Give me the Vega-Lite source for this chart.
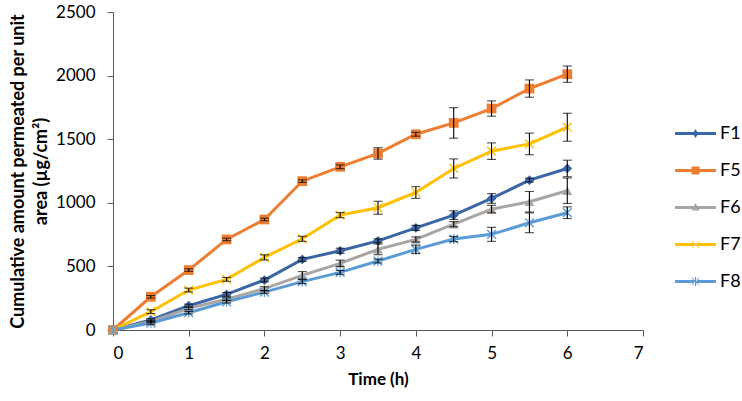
{
  "$schema": "https://vega.github.io/schema/vega-lite/v6.json",
  "width": 530,
  "height": 318,
  "autosize": {"type": "none"},
  "padding": {"left": 113, "top": 12, "right": 99, "bottom": 71},
  "background": "white",
  "config": {
    "view": {"stroke": null},
    "font": "Lato",
    "axis": {"domainColor": "#595959", "tickColor": "#595959", "labelColor": "#000000", "titleColor": "#000000", "grid": false, "labelFont": "Lato", "titleFont": "Lato"}
  },
  "data": {"values": [
    {"t": 0, "s": "F1", "v": 0}, {"t": 0.5, "s": "F1", "v": 79, "e": 10}, {"t": 1, "s": "F1", "v": 191, "e": 12}, {"t": 1.5, "s": "F1", "v": 280, "e": 15}, {"t": 2, "s": "F1", "v": 393, "e": 15}, {"t": 2.5, "s": "F1", "v": 555, "e": 15}, {"t": 3, "s": "F1", "v": 623, "e": 20}, {"t": 3.5, "s": "F1", "v": 701, "e": 15}, {"t": 4, "s": "F1", "v": 803, "e": 20}, {"t": 4.5, "s": "F1", "v": 903, "e": 34}, {"t": 5, "s": "F1", "v": 1034, "e": 38}, {"t": 5.5, "s": "F1", "v": 1178, "e": 15}, {"t": 6, "s": "F1", "v": 1270, "e": 65},
    {"t": 0, "s": "F5", "v": 0}, {"t": 0.5, "s": "F5", "v": 261, "e": 10}, {"t": 1, "s": "F5", "v": 471, "e": 10}, {"t": 1.5, "s": "F5", "v": 712, "e": 10}, {"t": 2, "s": "F5", "v": 869, "e": 10}, {"t": 2.5, "s": "F5", "v": 1170, "e": 10}, {"t": 3, "s": "F5", "v": 1283, "e": 15}, {"t": 3.5, "s": "F5", "v": 1388, "e": 45}, {"t": 4, "s": "F5", "v": 1539, "e": 15}, {"t": 4.5, "s": "F5", "v": 1628, "e": 120}, {"t": 5, "s": "F5", "v": 1741, "e": 60}, {"t": 5.5, "s": "F5", "v": 1898, "e": 68}, {"t": 6, "s": "F5", "v": 2011, "e": 64},
    {"t": 0, "s": "F6", "v": 0}, {"t": 0.5, "s": "F6", "v": 67, "e": 10}, {"t": 1, "s": "F6", "v": 170, "e": 10}, {"t": 1.5, "s": "F6", "v": 243, "e": 10}, {"t": 2, "s": "F6", "v": 325, "e": 15}, {"t": 2.5, "s": "F6", "v": 429, "e": 30}, {"t": 3, "s": "F6", "v": 524, "e": 25}, {"t": 3.5, "s": "F6", "v": 634, "e": 42}, {"t": 4, "s": "F6", "v": 712, "e": 20}, {"t": 4.5, "s": "F6", "v": 832, "e": 20}, {"t": 5, "s": "F6", "v": 950, "e": 30}, {"t": 5.5, "s": "F6", "v": 1008, "e": 81}, {"t": 6, "s": "F6", "v": 1095, "e": 100},
    {"t": 0, "s": "F7", "v": 0}, {"t": 0.5, "s": "F7", "v": 144, "e": 15}, {"t": 1, "s": "F7", "v": 314, "e": 15}, {"t": 1.5, "s": "F7", "v": 398, "e": 15}, {"t": 2, "s": "F7", "v": 571, "e": 20}, {"t": 2.5, "s": "F7", "v": 717, "e": 20}, {"t": 3, "s": "F7", "v": 903, "e": 20}, {"t": 3.5, "s": "F7", "v": 961, "e": 51}, {"t": 4, "s": "F7", "v": 1081, "e": 46}, {"t": 4.5, "s": "F7", "v": 1270, "e": 75}, {"t": 5, "s": "F7", "v": 1406, "e": 65}, {"t": 5.5, "s": "F7", "v": 1463, "e": 85}, {"t": 6, "s": "F7", "v": 1594, "e": 110},
    {"t": 0, "s": "F8", "v": 0}, {"t": 0.5, "s": "F8", "v": 55, "e": 10}, {"t": 1, "s": "F8", "v": 136, "e": 10}, {"t": 1.5, "s": "F8", "v": 222, "e": 10}, {"t": 2, "s": "F8", "v": 298, "e": 10}, {"t": 2.5, "s": "F8", "v": 380, "e": 15}, {"t": 3, "s": "F8", "v": 453, "e": 15}, {"t": 3.5, "s": "F8", "v": 542, "e": 15}, {"t": 4, "s": "F8", "v": 634, "e": 33}, {"t": 4.5, "s": "F8", "v": 715, "e": 20}, {"t": 5, "s": "F8", "v": 752, "e": 55}, {"t": 5.5, "s": "F8", "v": 843, "e": 78}, {"t": 6, "s": "F8", "v": 922, "e": 46}
  ]},
  "encoding": {
    "x": {"field": "t", "type": "quantitative", "scale": {"domain": [0, 7], "nice": false}, "axis": {"title": "Time (h)", "values": [0,1,2,3,4,5,6,7], "format": "d", "labelFontSize": 17, "titleFontSize": 17, "titleFontWeight": "bold", "tickSize": 6, "labelPadding": 9, "titlePadding": 10}},
    "y": {"field": "v", "type": "quantitative", "scale": {"domain": [0, 2500], "nice": false}, "axis": {"title": ["Cumulative amount permeated per unit", "area (µg/cm²)"], "values": [0,500,1000,1500,2000,2500], "format": "d", "labelFontSize": 17, "titleFontSize": 18, "titleLineHeight": 23, "titleFontWeight": "bold", "tickSize": 6, "labelPadding": 12, "titlePadding": 5}},
    "color": {"field": "s", "type": "nominal", "scale": {"domain": ["F1","F5","F6","F7","F8"], "range": ["#3a66a6","#ed7d31","#a9a5a2","#ffc000","#5b9bd5"]}}
  },
  "resolve": {"scale": {"shape": "independent"}, "legend": {"shape": "independent", "color": "independent"}},
  "layer": [
    {"mark": {"type": "line", "strokeWidth": 3}, "encoding": {"color": {"field": "s", "type": "nominal", "legend": null}}},
    {"mark": {"type": "point", "filled": true, "opacity": 1, "size": 95},
     "encoding": {
       "color": {"field": "s", "type": "nominal", "legend": null},
       "shape": {"field": "s", "type": "nominal", "legend": null, "scale": {"domain": ["F1","F5","F6","F7","F8"], "range": ["diamond", "square", "triangle-up", "M-1,-0.8L-0.8,-1L1,0.8L0.8,1Z M1,-0.8L0.8,-1L-1,0.8L-0.8,1Z", "M-1,-0.8L-0.8,-1L1,0.8L0.8,1Z M1,-0.8L0.8,-1L-1,0.8L-0.8,1Z M-0.12,-1H0.12V1H-0.12Z"]}}
     }},
    {"transform": [{"filter": "datum.e > 0"}],
     "mark": {"type": "errorbar", "color": "black", "thickness": 1.1, "ticks": {"size": 9, "thickness": 1.1}},
     "encoding": {"yError": {"field": "e"}, "color": {"value": "black"}}},
    {"mark": {"type": "point", "filled": true, "opacity": 0, "size": 1332},
     "encoding": {
       "color": {"field": "s", "type": "nominal", "legend": {"title": null, "orient": "none", "legendX": 564, "legendY": 103, "labelFontSize": 18, "labelFont": "Lato", "rowPadding": 0, "padding": 0, "symbolSize": 1332, "symbolOpacity": 1, "symbolStrokeWidth": 0, "labelOffset": 6}},
       "shape": {"field": "s", "type": "nominal", "legend": {"title": null, "orient": "none", "legendX": 564, "legendY": 103, "labelFontSize": 18, "labelFont": "Lato", "rowPadding": 0, "padding": 0, "symbolSize": 1332, "symbolOpacity": 1, "symbolStrokeWidth": 0, "labelOffset": 6}, "scale": {"domain": ["F1","F5","F6","F7","F8"], "range": [
         "M0,-1L0,1 M-1.12,-0.08H1.12V0.08H-1.12Z M0,-0.24L0.15,0L0,0.24L-0.15,0Z",
         "M0,-1L0,1 M-1.12,-0.08H1.12V0.08H-1.12Z M-0.22,-0.22H0.22V0.22H-0.22Z",
         "M0,-1L0,1 M-1.12,-0.08H1.12V0.08H-1.12Z M0,-0.24L0.22,0.16H-0.22Z",
         "M0,-1L0,1 M-1.12,-0.08H1.12V0.08H-1.12Z M-0.22,-0.19L-0.19,-0.22L0.22,0.19L0.19,0.22Z M0.22,-0.19L0.19,-0.22L-0.22,0.19L-0.19,0.22Z",
         "M0,-1L0,1 M-1.12,-0.08H1.12V0.08H-1.12Z M-0.22,-0.19L-0.19,-0.22L0.22,0.19L0.19,0.22Z M0.22,-0.19L0.19,-0.22L-0.22,0.19L-0.19,0.22Z M-0.03,-0.24H0.03V0.24H-0.03Z"
       ]}}
     }}
  ]
}
